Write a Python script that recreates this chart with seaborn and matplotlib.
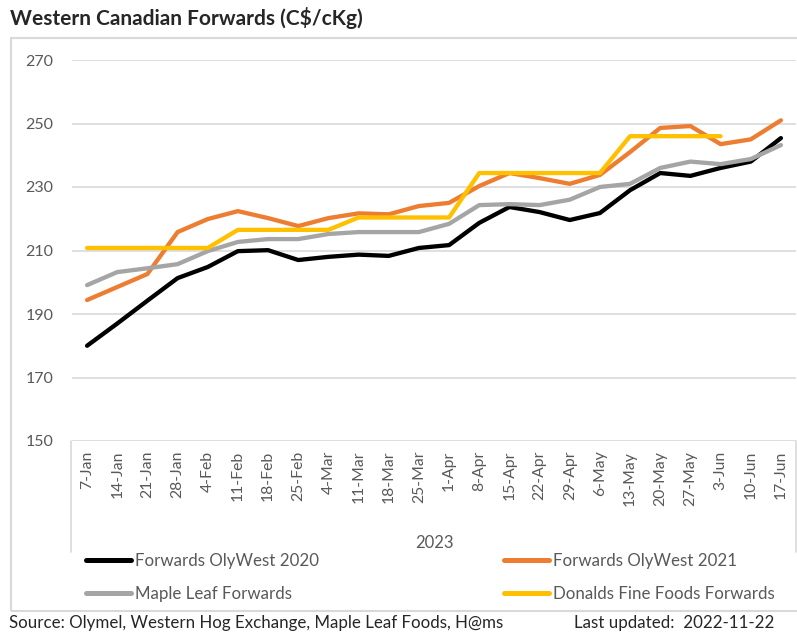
import numpy as np
import pandas as pd
import matplotlib
matplotlib.use("Agg")
import matplotlib.pyplot as plt
import seaborn as sns
from matplotlib.patches import Rectangle
from matplotlib.lines import Line2D

# Weekly dates (2023)
weeks = ["7-Jan", "14-Jan", "21-Jan", "28-Jan", "4-Feb", "11-Feb", "18-Feb", "25-Feb",
         "4-Mar", "11-Mar", "18-Mar", "25-Mar", "1-Apr", "8-Apr", "15-Apr", "22-Apr",
         "29-Apr", "6-May", "13-May", "20-May", "27-May", "3-Jun", "10-Jun", "17-Jun"]

olywest_2020 = [180.0, 187.0, 194.2, 201.3, 204.8, 209.8, 210.1, 207.0, 208.0, 208.7, 208.3, 210.8,
                211.7, 218.7, 223.7, 222.1, 219.6, 221.8, 229.0, 234.4, 233.5, 236.0, 238.0, 245.4]
olywest_2021 = [194.4, 198.5, 202.6, 215.8, 219.9, 222.4, 220.2, 217.7, 220.2, 221.7, 221.4, 224.0,
                225.0, 230.3, 234.4, 232.8, 231.0, 233.8, 241.0, 248.6, 249.2, 243.5, 245.0, 251.0]
maple_leaf = [199.1, 203.2, 204.4, 205.7, 209.8, 212.7, 213.6, 213.6, 215.2, 215.8, 215.8, 215.8,
              218.4, 224.3, 224.6, 224.3, 226.0, 230.0, 231.0, 236.0, 238.0, 237.2, 238.8, 243.2]
donalds = [210.8, 210.8, 210.8, 210.8, 210.8, 216.5, 216.5, 216.5, 216.5, 220.4, 220.4, 220.4,
           220.4, 234.4, 234.4, 234.4, 234.4, 234.4, 246.0, 246.0, 246.0, 246.0, np.nan, np.nan]

series_names = ["Forwards OlyWest 2020", "Forwards OlyWest 2021",
                "Maple Leaf Forwards", "Donalds Fine Foods Forwards"]
colors = ["#000000", "#ED7D31", "#A5A5A5", "#FFC000"]

df = pd.DataFrame({
    "week": weeks * 4,
    "value": olywest_2020 + olywest_2021 + maple_leaf + donalds,
    "series": np.repeat(series_names, len(weeks)),
})

sns.set_style("white")
plt.rcParams["font.family"] = ["Lato", "DejaVu Sans"]

W, H = 797, 644
fig = plt.figure(figsize=(W / 100, H / 100), dpi=100)
ax = fig.add_axes([72 / W, 1 - 441 / H, 724 / W, 381 / H])

sns.lineplot(data=df, x="week", y="value", hue="series", hue_order=series_names,
             palette=colors, linewidth=3.1, sort=False, ax=ax, legend=True)

ax.set_xlim(-0.5, len(weeks) - 0.5)
ax.set_ylim(150, 270)
ax.set_yticks(range(150, 271, 20))
ax.yaxis.grid(True, color="#d9d9d9", linewidth=1.2)
ax.set_axisbelow(True)
for s in ax.spines.values():
    s.set_visible(False)
ax.tick_params(axis="y", length=0, colors="#595959", labelsize=11.5, pad=13.5)
ax.tick_params(axis="x", length=0, colors="#595959", labelsize=11.3, pad=7)
plt.setp(ax.get_xticklabels(), rotation=90)
ax.set_ylabel("")
ax.set_xlabel("2023", color="#595959", fontsize=12, labelpad=21)

# category axis box sides
for xp in (71, 796):
    fig.add_artist(Line2D([xp / W, xp / W], [1 - 441 / H, 1 - 552 / H], transform=fig.transFigure,
                          color="#d9d9d9", linewidth=1.2))

handles, labels = ax.get_legend_handles_labels()
ax.get_legend().remove()
order = [0, 2, 1, 3]
leg = fig.legend([handles[i] for i in order], [labels[i] for i in order], ncol=2,
                 loc="upper left", bbox_to_anchor=(86 / W, 1 - 553 / H),
                 frameon=False, fontsize=12.2, handlelength=2.65, handletextpad=0.25,
                 columnspacing=10.9, labelspacing=1.0, borderpad=0, borderaxespad=0,
                 labelcolor="#595959")
for h in leg.get_lines():
    h.set_linewidth(3.6)

# outer chart frame
fig.patches.append(Rectangle((11 / W, 1 - 611 / H), 790 / W, 573 / H,
                             transform=fig.transFigure, fill=False, edgecolor="#d9d9d9", linewidth=1.5))

fig.text(10 / W, 1 - 18 / H, "Western Canadian Forwards (C$/cKg)", fontsize=15,
         fontweight="bold", va="center", ha="left")
fig.text(9 / W, 1 - 623 / H, "Source: Olymel, Western Hog Exchange, Maple Leaf Foods, H@ms",
         fontsize=12.2, va="center", ha="left")
fig.text(574 / W, 1 - 623 / H, "Last updated:  2022-11-22", fontsize=12.2, va="center", ha="left")

fig.savefig("out.png", dpi=100)
